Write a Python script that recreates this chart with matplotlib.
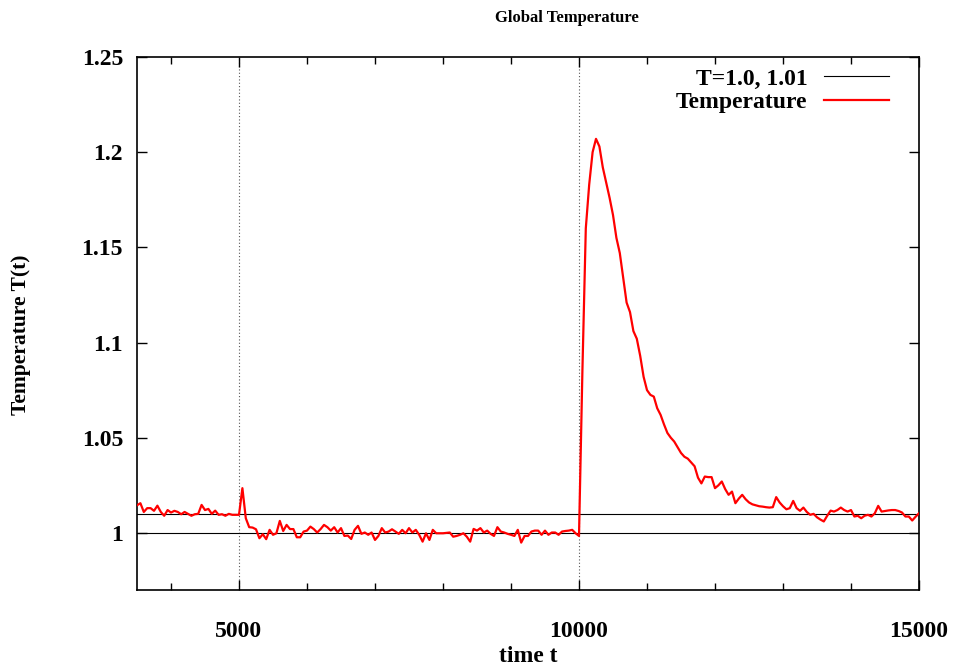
import numpy as np
import matplotlib
matplotlib.use("Agg")
import matplotlib.pyplot as plt
from matplotlib.ticker import MultipleLocator

# ---- data ----
t_start = 3500
t_step = 50
temp_pre = [  # 3500 .. 5050
    1.0145, 1.0156, 1.011, 1.013, 1.013, 1.0116, 1.0143, 1.011, 1.009, 1.012,
    1.0107, 1.0116, 1.011, 1.0098, 1.011, 1.010, 1.009, 1.0098, 1.010, 1.0147,
    1.012, 1.0126, 1.010, 1.0117, 1.0095, 1.0098, 1.009, 1.010, 1.0095, 1.0095,
    1.0095, 1.0235,
]
temp_mid = [  # 5100 .. 10000
    1.0077, 1.003, 1.0028, 1.0019, 0.9972, 0.9993, 0.9967, 1.0016, 0.999, 0.9998,
    1.0063, 1.001, 1.0042, 1.002, 1.002, 0.9977, 0.9977, 1.0007, 1.0012, 1.0033,
    1.002, 1.0002, 1.002, 1.0042, 1.003, 1.0012, 1.003, 1.0002, 1.0025, 0.9984,
    0.9986, 0.9968, 1.0016, 1.0037, 0.9995, 1.0002, 0.999, 1.0002, 0.9963, 0.9984,
    1.0025, 1.0002, 1.0007, 1.0019, 1.0007, 0.9995, 1.0016, 0.9998, 1.0025, 1.0002,
    1.0016, 0.999, 0.9954, 0.9998, 0.9963, 1.0016, 0.9998, 0.9998, 0.9998, 1.0,
    1.0002, 0.998, 0.9984, 0.999, 0.9998, 0.998, 0.9954, 1.0021, 1.0012, 1.0025,
    1.0002, 1.0012, 0.9995, 0.9984, 1.003, 1.0007, 1.0002, 0.9995, 0.999, 0.9984,
    1.0016, 0.9949, 0.9984, 0.9984, 1.0007, 1.0012, 1.0012, 0.999, 1.0012, 0.999,
    1.0002, 1.0002, 0.999, 1.0007, 1.001, 1.0012, 1.0016, 0.9998, 0.9984,
]
temp_post = [  # 10050 .. 15000
    1.085, 1.160, 1.183, 1.200, 1.207, 1.203, 1.192, 1.184, 1.176, 1.167,
    1.155, 1.147, 1.134, 1.121, 1.116, 1.106, 1.102, 1.093, 1.082, 1.075,
    1.0725, 1.0716, 1.0655, 1.062, 1.057, 1.0525, 1.050, 1.048, 1.045, 1.042,
    1.040, 1.039, 1.037, 1.035, 1.029, 1.026, 1.0296, 1.0293, 1.0293, 1.0235,
    1.025, 1.027, 1.023, 1.020, 1.0217, 1.0156, 1.018, 1.020, 1.0177, 1.016,
    1.015, 1.0145, 1.014, 1.0138, 1.0135, 1.0133, 1.0135, 1.0188, 1.016, 1.014,
    1.0124, 1.013, 1.0168, 1.013, 1.0116, 1.0133, 1.011, 1.0095, 1.010, 1.0082,
    1.007, 1.006, 1.009, 1.0117, 1.0112, 1.012, 1.0133, 1.012, 1.0112, 1.012,
    1.0086, 1.009, 1.0077, 1.009, 1.0095, 1.0086, 1.0103, 1.0142, 1.0112, 1.0115,
    1.0118, 1.012, 1.012, 1.0115, 1.0107, 1.0086, 1.0086, 1.0065, 1.0085, 1.0103,
]
temperature = np.array(temp_pre + temp_mid + temp_post)
time = t_start + t_step * np.arange(len(temperature))
ref_levels = [1.0, 1.01]
event_times = [5000, 10000]
x_ticks = [5000, 10000, 15000]
y_ticks = [1.0, 1.05, 1.1, 1.15, 1.2, 1.25]
y_ticklabels = ["1", "1.05", "1.1", "1.15", "1.2", "1.25"]

plt.rcParams['font.family'] = ['Liberation Serif', 'DejaVu Serif']
plt.rcParams['font.weight'] = 'bold'

fig = plt.figure(figsize=(9.57, 6.68), dpi=100)
ax = fig.add_axes([137/957, 1-590/668, (919-137)/957, (590-57)/668])

for i, lv in enumerate(ref_levels):
    ax.axhline(lv, color='black', lw=0.8, label='T=1.0, 1.01' if i == 0 else None, zorder=2)
for et in event_times:
    ax.axvline(et, color='#555555', lw=0.8, ls=(0, (1, 2)), zorder=1)
ax.plot(time, temperature, color='#ff0000', lw=1.6, label='Temperature', zorder=3)

ax.set_xlim(3500, 15000)
ax.set_ylim(0.97, 1.25)
ax.set_xticks(x_ticks)
ax.xaxis.set_minor_locator(MultipleLocator(1000))
ax.set_yticks(y_ticks)
ax.set_yticklabels(y_ticklabels)
ax.tick_params(which='both', direction='in', top=True, right=True, labelsize=17)
ax.tick_params(axis='x', which='major', pad=22)
ax.tick_params(axis='y', which='major', pad=10)
ax.tick_params(which='major', length=7, width=1)
ax.tick_params(which='minor', length=5, width=1)
for lab in ax.get_xticklabels() + ax.get_yticklabels():
    lab.set_fontweight('bold')
for sp in ax.spines.values():
    sp.set_linewidth(1.2)

ax.set_xlabel('time t', fontsize=17, fontweight='bold')
ax.xaxis.set_label_coords((528-137)/782, -(656-590)/533)
ax.xaxis.label.set_va('center')
ax.set_ylabel('Temperature T(t)', fontsize=15.5, fontweight='bold')
ax.yaxis.set_label_coords(-(137-21)/782, (590-335)/533)
ax.yaxis.label.set_va('center')
fig.text(567/957, 1-18/668, 'Global Temperature', ha='center', va='center', fontsize=12, fontweight='bold')

leg = ax.legend(loc='upper right', frameon=False, markerfirst=False, fontsize=17,
                handlelength=2.75, handletextpad=0.7, labelspacing=0.1,
                bbox_to_anchor=((889-137)/782, 1-(68-57)/533),
                borderaxespad=0.0, borderpad=0.0)
for txt in leg.get_texts():
    txt.set_fontweight('bold')

fig.savefig('out.png', dpi=100)
